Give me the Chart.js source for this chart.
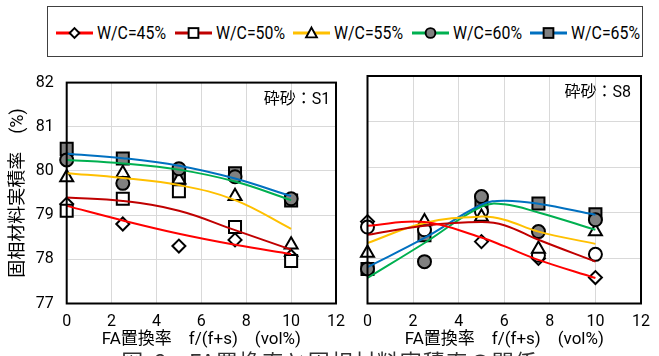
<!DOCTYPE html>
<html>
<head>
<meta charset="utf-8">
<script src="https://cdn.jsdelivr.net/npm/chart.js@4.4.1/dist/chart.umd.min.js"></script>
<style>
  html, body { margin: 0; padding: 0; background: #fff; width: 659px; height: 356px; overflow: hidden; }
  body { position: relative; }
  #legend { position: absolute; left: 47px; top: 6px; width: 596px; height: 51px; box-sizing: border-box;
            border: 1px solid #404040; display: flex; align-items: center; padding-left: 8px; padding-top: 2px; }
  .item { display: flex; align-items: center; width: 118.5px; flex: none; }
  .item svg { flex: none; }
  .item span { display: inline-block; font: 18px Roboto, "Noto Sans CJK JP", sans-serif; color: #000;
               margin-left: 4px; white-space: nowrap; transform: scaleX(0.88); transform-origin: left center; }
  #cl { position: absolute; left: 0; top: 60px; }
  #cr { position: absolute; left: 354px; top: 60px; }
  #caption { position: absolute; left: 0; width: 659px; top: 349px; text-align: center; letter-spacing: 1px;
             font: 22px "Noto Sans CJK JP", sans-serif; line-height: 1; color: #333; }
</style>
</head>
<body>
<div id="legend"></div>
<canvas id="cl" width="354" height="296"></canvas>
<canvas id="cr" width="305" height="296"></canvas>
<div id="caption">図-6　FA置換率と固相材料実積率の関係</div>
<script>
// FA replacement ratio f/(f+s) (vol%) at which specimens were tested
const faRatio = [0, 2.5, 5, 7.5, 10];
const seriesLabels = ['W/C=45%', 'W/C=50%', 'W/C=55%', 'W/C=60%', 'W/C=65%'];
const xTickValues = [0, 2, 4, 6, 8, 10, 12];
const yTickValues = [77, 78, 79, 80, 81, 82];
const panelTitles = ['砕砂：S1', '砕砂：S8'];
const xAxisTitle = 'FA置換率　f/(f+s)　(vol%)';
const yAxisTitle = '固相材料実積率　(%)';

// Crushed sand S1: measured solid volume ratio (%)
const s1WC45 = [79.25, 78.80, 78.30, 78.44, 78.07];
const s1WC50 = [79.10, 79.37, 79.54, 78.73, 77.96];
const s1WC55 = [79.85, 79.95, 79.80, 79.43, 78.33];
const s1WC60 = [80.25, 79.72, 80.05, 79.87, 79.37];
const s1WC65 = [80.50, 80.28, 79.85, 79.95, 79.33];

// Crushed sand S1: fitted trend curves
const s1CurveX = [0, 2.5, 5, 7.5, 10];
const s1Curve45 = [79.21, 78.88, 78.58, 78.33, 78.12];
const s1Curve50 = [79.40, 79.32, 79.10, 78.66, 78.22];
const s1Curve55 = [79.95, 79.84, 79.68, 79.34, 78.69];
const s1Curve60 = [80.25, 80.17, 80.03, 79.76, 79.34];
const s1Curve65 = [80.39, 80.29, 80.12, 79.83, 79.43];

// Crushed sand S8: measured solid volume ratio (%)
const s8WC45 = [78.80, 78.72, 78.36, 77.99, 77.57];
const s8WC50 = [78.68, 78.62, 79.02, 78.06, 78.08];
const s8WC55 = [78.11, 78.80, 78.90, 78.20, 78.58];
const s8WC60 = [77.76, 77.92, 79.35, 78.58, 78.84];
const s8WC65 = [77.76, 78.50, 79.20, 79.20, 78.96];

// Crushed sand S8: fitted trend curves
const s8CurveX = [0, 2.5, 5, 6, 7.5, 10];
const s8Curve45 = [78.71, 78.79, 78.45, 78.26, 77.96, 77.56];
const s8Curve50 = [78.51, 78.71, 78.79, 78.72, 78.40, 77.92];
const s8Curve55 = [78.33, 78.77, 78.91, 78.84, 78.58, 78.31];
const s8Curve60 = [77.56, 78.33, 79.13, 79.18, 79.00, 78.62];
const s8Curve65 = [77.80, 78.44, 79.17, 79.26, 79.19, 78.95];

// Styling
const lineColors = ['#FF0000', '#C00000', '#FFC000', '#00B050', '#0070C0'];
const markerShapes = ['rectRot', 'rect', 'triangle', 'circle', 'rect'];
const markerRadius = { rectRot: 6.5, rect: 8.5, triangle: 7.5, circle: 6.5 };
const markerFills = ['#FFFFFF', '#FFFFFF', '#FFFFFF', '#808080', '#808080'];
const markerOrder = [4, 3, 2, 1, 5];   // W/C=60% sits on top, W/C=65% at the bottom
const LATIN = 'Roboto, "Noto Sans CJK JP", sans-serif';

// ---- legend ----
function legendMarker(i) {
  const shape = markerShapes[i], fill = markerFills[i];
  const a = 'fill="' + fill + '" stroke="#000" stroke-width="2"';
  if (shape === 'rectRot') return '<polygon points="19,5 24,10 19,15 14,10" ' + a + '/>';
  if (shape === 'rect') return '<rect x="14" y="5" width="10" height="10" ' + a + '/>';
  if (shape === 'triangle') return '<polygon points="19,4.5 24.5,14.5 13.5,14.5" ' + a + '/>';
  return '<circle cx="19" cy="10" r="5" ' + a + '/>';
}
const legendEl = document.getElementById('legend');
seriesLabels.forEach((label, i) => {
  const item = document.createElement('div');
  item.className = 'item';
  item.innerHTML = '<svg width="37" height="20" viewBox="0 0 38 20">' +
    '<line x1="0" y1="10" x2="38" y2="10" stroke="' + lineColors[i] + '" stroke-width="3"/>' +
    legendMarker(i) + '</svg><span>' + label + '</span>';
  legendEl.appendChild(item);
});

// ---- chart helpers ----
const toPoints = (xs, ys) => xs.map((x, k) => ({ x: x, y: ys[k] }));

function buildDatasets(measured, curveX, curves, shapeOverride) {
  const sets = [];
  curves.forEach((ys, i) => {
    sets.push({
      label: seriesLabels[i] + ' fit',
      data: toPoints(curveX, ys),
      showLine: true,
      borderColor: lineColors[i],
      borderWidth: 2,
      pointRadius: 0,
      tension: 0.4,
      fill: false,
      order: 0
    });
  });
  measured.forEach((ys, i) => {
    const shape = (shapeOverride && shapeOverride[i]) || markerShapes[i];
    sets.push({
      label: seriesLabels[i],
      data: toPoints(faRatio, ys),
      showLine: false,
      pointStyle: shape,
      pointRadius: markerRadius[shape],
      pointBackgroundColor: markerFills[i],
      pointBorderColor: '#000',
      pointBorderWidth: 2,
      clip: false,
      order: markerOrder[i]
    });
  });
  return sets;
}

// Black frame around the plotting area and the sand label in its upper right
const panelDecor = {
  id: 'panelDecor',
  afterDatasetsDraw(chart, args, opts) {
    const a = chart.chartArea, ctx = chart.ctx;
    ctx.save();
    ctx.strokeStyle = '#000';
    ctx.lineWidth = 2;
    ctx.strokeRect(a.left, a.top, a.right - a.left, a.bottom - a.top);
    ctx.fillStyle = '#000';
    ctx.font = '16px ' + LATIN;
    ctx.textAlign = 'left';
    ctx.textBaseline = 'middle';
    ctx.fillText(opts.text, a.left + 197, a.top + 17);
    ctx.restore();
  }
};

function panelConfig(datasets, title, showY, yWidth, padRight) {
  return {
    type: 'scatter',
    data: { datasets: datasets },
    plugins: [panelDecor],
    options: {
      responsive: false,
      devicePixelRatio: 1,
      animation: false,
      events: [],
      layout: { padding: { top: 16, right: padRight, left: 0, bottom: 0 } },
      plugins: { legend: { display: false }, tooltip: { enabled: false }, panelDecor: { text: title } },
      scales: {
        x: {
          type: 'linear', min: 0, max: 12, offset: false,
          afterBuildTicks: s => { s.ticks = xTickValues.map(v => ({ value: v })); },
          afterFit: s => { s.height = 52.5; },
          grid: { color: '#D9D9D9', lineWidth: 1, drawTicks: false },
          border: { display: false },
          ticks: { autoSkip: false, maxRotation: 0, padding: 9, color: '#000',
                   font: { family: LATIN, size: 16 } },
          title: { display: true, text: xAxisTitle, color: '#000',
                   font: { family: LATIN, size: 17 }, padding: { top: 0, bottom: 6 } }
        },
        y: {
          type: 'linear', min: 77, max: 82,
          afterBuildTicks: s => { s.ticks = yTickValues.map(v => ({ value: v })); },
          afterFit: s => { s.width = yWidth; },
          grid: { color: '#D9D9D9', lineWidth: 1, drawTicks: false },
          border: { display: false },
          ticks: { display: showY, padding: 13, color: '#000', font: { family: LATIN, size: 16 } },
          title: { display: showY, text: yAxisTitle, color: '#000',
                   font: { family: LATIN, size: 18 }, padding: { top: 8, bottom: 0 } }
        }
      }
    }
  };
}

new Chart(document.getElementById('cl'), panelConfig(
  buildDatasets([s1WC45, s1WC50, s1WC55, s1WC60, s1WC65], s1CurveX,
                [s1Curve45, s1Curve50, s1Curve55, s1Curve60, s1Curve65]),
  panelTitles[0], true, 66.7, 7));

new Chart(document.getElementById('cr'), panelConfig(
  buildDatasets([s8WC45, s8WC50, s8WC55, s8WC60, s8WC65], s8CurveX,
                [s8Curve45, s8Curve50, s8Curve55, s8Curve60, s8Curve65],
                [null, 'circle', null, null, null]),
  panelTitles[1], false, 8.3, 17));
</script>
</body>
</html>
